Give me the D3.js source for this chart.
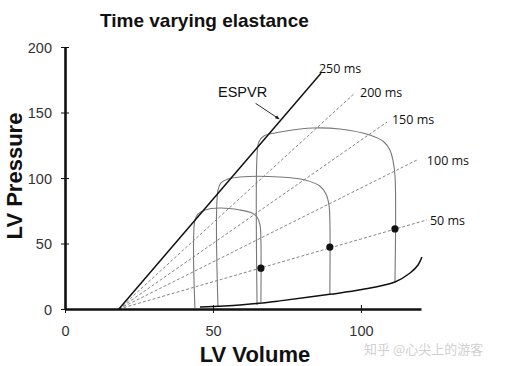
<!DOCTYPE html>
<html>
<head>
<meta charset="utf-8">
<script src="https://cdn.jsdelivr.net/npm/d3@7"></script>
<style>
body { margin:0; background:#fff; }
</style>
</head>
<body>
<div id="chart"></div>
<script>
// volume / pressure data
var V0 = 18.2;
var xTicks = [0, 50, 100];
var yTicks = [0, 50, 100, 150, 200];

var timeLabels = ['250 ms', '200 ms', '150 ms', '100 ms', '50 ms'];
var lineEndVol = [86.5, 98, 108.8, 118.9, 122.3];
var lineEndP   = [180, 165, 142.7, 113.7, 68];

var edpvr = [[45.6,1.5],[59.1,3.1],[66.6,4.6],[72.6,6.2],[89.5,11.2],[100.3,14.8],[111.5,20.6],[116.6,27.5],[119.3,33.6],[120.6,39.7]];

var loop1 = [[43.9,0.8],[43.9,67.9],[44.9,72.5],[47.3,75.6],[52.4,77.1],[59.1,75.6],[63.2,73.3],[64.9,70.2],[65.9,64.1],[66.2,52.7],[66.2,5.3]];
var loop2 = [[51.7,1.5],[51.7,90.8],[52.7,96.2],[55.1,99.2],[59.1,100.8],[72.6,100.8],[81.1,98.5],[86.1,93.9],[88.2,87.8],[89.2,79.4],[89.5,67.9],[89.5,11.5]];
var loop3 = [[64.9,3.1],[64.9,117.6],[65.5,127.5],[67.2,132.1],[70.9,134.4],[79.4,137.4],[83.8,138.2],[92.9,137.4],[103,132.8],[107.8,127.5],[109.8,121.4],[110.8,113.7],[111.5,102.3],[111.5,20.6]];

var dots = [[66.2,31.2],[89.5,47.3],[111.5,61.1]];

var width = 509, height = 366;

var svg = d3.select('#chart').append('svg')
	.attr('width', width)
	.attr('height', height)
	.style('font-family', '"Liberation Sans", Arial, sans-serif');

var x = d3.scaleLinear().domain([0, 120.3]).range([65, 421]);
var y = d3.scaleLinear().domain([0, 200]).range([309, 47]);

// title
svg.append('text')
	.attr('x', 100)
	.attr('y', 27)
	.text('Time varying elastance')
	.attr('font-size', '19')
	.attr('font-weight', 'bold')
	.attr('fill', '#111');

// dashed elastance lines (drawn first, under the loops)
var lines = svg.append('g').selectAll('line')
	.data(timeLabels.slice(1));
lines.enter().append('line')
	.attr('x1', x(V0))
	.attr('y1', y(0))
	.attr('x2', function(d,i){ return x(lineEndVol[i+1]); })
	.attr('y2', function(d,i){ return y(lineEndP[i+1]); })
	.attr('stroke', '#666')
	.attr('stroke-width', 0.8)
	.attr('stroke-dasharray', '3,2');

// pv loops
var loopLine = d3.line()
	.x(function(d){ return x(d[0]); })
	.y(function(d){ return y(d[1]); })
	.curve(d3.curveCatmullRom.alpha(0.5));

[loop1, loop2, loop3].forEach(function(l){
	svg.append('path')
		.attr('d', loopLine(l))
		.attr('fill', 'none')
		.attr('stroke', '#777')
		.attr('stroke-width', 1.1);
});

// ESPVR
svg.append('line')
	.attr('x1', x(V0))
	.attr('y1', y(0))
	.attr('x2', x(lineEndVol[0]))
	.attr('y2', y(lineEndP[0]))
	.attr('stroke', '#111')
	.attr('stroke-width', 1.5);

// EDPVR
svg.append('path')
	.attr('d', loopLine(edpvr))
	.attr('fill', 'none')
	.attr('stroke', '#111')
	.attr('stroke-width', 1.5);

// dots on the 50 ms line
svg.append('g').selectAll('circle')
	.data(dots)
	.enter().append('circle')
	.attr('cx', function(d){ return x(d[0]); })
	.attr('cy', function(d){ return y(d[1]); })
	.attr('r', 3.6)
	.attr('fill', '#111');

// ms labels
var labOff = [[-2,0],[5,4],[5,2],[10,5],[3,5]];
svg.append('g').selectAll('text')
	.data(timeLabels)
	.enter().append('text')
	.attr('x', function(d,i){ return x(lineEndVol[i]) + labOff[i][0]; })
	.attr('y', function(d,i){ return y(lineEndP[i]) + labOff[i][1]; })
	.text(function(d){ return d; })
	.attr('font-family', '"Open Sans", sans-serif')
	.attr('font-size', '12.5')
	.attr('fill', '#111');

// ESPVR label + arrow
svg.append('defs').append('marker')
	.attr('id', 'arr')
	.attr('viewBox', '0 0 10 10')
	.attr('refX', 9).attr('refY', 5)
	.attr('markerWidth', 5).attr('markerHeight', 5)
	.attr('orient', 'auto')
	.append('path')
	.attr('d', 'M0,1 L10,5 L0,9 Z')
	.attr('fill', '#111');

svg.append('text')
	.attr('x', x(51.7))
	.attr('y', y(162))
	.text('ESPVR')
	.attr('font-size', '14.5')
	.attr('fill', '#111');

svg.append('line')
	.attr('x1', x(64.4))
	.attr('y1', y(157))
	.attr('x2', x(72.4))
	.attr('y2', y(145))
	.attr('stroke', '#111')
	.attr('stroke-width', 0.9)
	.attr('marker-end', 'url(#arr)');

// axes
var xAxis = svg.append('g')
	.attr('transform', 'translate(0,' + y(0) + ')')
	.call(d3.axisBottom(x).tickValues(xTicks).tickSizeOuter(0));
var yAxis = svg.append('g')
	.attr('transform', 'translate(' + x(0) + ',0)')
	.call(d3.axisLeft(y).tickValues(yTicks).tickSizeOuter(0));

xAxis.select('.domain').attr('stroke', '#111').attr('stroke-width', 2.6);
yAxis.select('.domain').attr('stroke', '#111').attr('stroke-width', 2.6);
xAxis.selectAll('.tick line').attr('y1', -4).attr('y2', 4).attr('stroke', '#111');
yAxis.selectAll('.tick line').attr('x1', -4).attr('x2', 4).attr('stroke', '#111');
xAxis.selectAll('.tick text')
	.attr('y', 27).attr('dy', 0)
	.attr('font-size', '14.5')
	.attr('font-family', '"Liberation Sans", Arial, sans-serif')
	.attr('fill', '#333');
yAxis.selectAll('.tick text')
	.attr('x', -13).attr('dy', '0.35em')
	.attr('font-size', '14.5')
	.attr('font-family', '"Liberation Sans", Arial, sans-serif')
	.attr('fill', '#333');

// axis titles
svg.append('text')
	.attr('x', 255)
	.attr('y', 362)
	.attr('text-anchor', 'middle')
	.text('LV Volume')
	.attr('font-size', '22')
	.attr('font-weight', 'bold')
	.attr('fill', '#111');

svg.append('text')
	.attr('transform', 'translate(22,176) rotate(-90)')
	.attr('text-anchor', 'middle')
	.text('LV Pressure')
	.attr('font-size', '22')
	.attr('font-weight', 'bold')
	.attr('fill', '#111');

// watermark
svg.append('text')
	.attr('x', 364)
	.attr('y', 354)
	.text('知乎 @心尖上的游客')
	.attr('font-family', '"Noto Sans CJK SC", sans-serif')
	.attr('font-size', '13')
	.attr('fill', '#d0d0d0');
</script>
</body>
</html>
